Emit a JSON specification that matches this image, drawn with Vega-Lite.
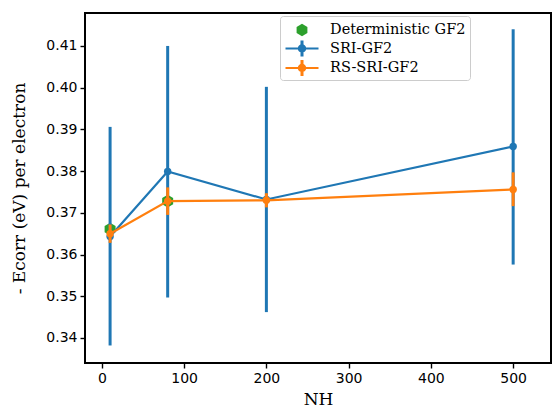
{
  "$schema": "https://vega.github.io/schema/vega-lite/v6.json",
  "width": 466,
  "height": 350,
  "autosize": {"type": "none"},
  "padding": {"left": 85, "top": 13, "right": 2, "bottom": 48},
  "background": "white",
  "config": {
    "view": {"stroke": "black", "strokeWidth": 2},
    "axis": {
      "grid": false,
      "domain": false,
      "tickColor": "black",
      "tickSize": 5,
      "tickWidth": 1.4,
      "labelFont": "DejaVu Sans",
      "labelFontSize": 14,
      "labelColor": "black",
      "titleFont": "DejaVu Serif",
      "titleFontSize": 17,
      "titleFontWeight": "normal",
      "titleColor": "black",
      "labelPadding": 3
    },
    "legend": {
      "labelFont": "DejaVu Serif",
      "labelFontSize": 14.5,
      "labelColor": "black"
    }
  },
  "data": {
    "values": [
      {"series": "Deterministic GF2", "N": 10, "y": 0.3661},
      {"series": "Deterministic GF2", "N": 80, "y": 0.3728},
      {"series": "SRI-GF2", "N": 10, "y": 0.3643, "lo": 0.3382, "hi": 0.3906},
      {"series": "SRI-GF2", "N": 80, "y": 0.3799, "lo": 0.3497, "hi": 0.4100},
      {"series": "SRI-GF2", "N": 200, "y": 0.3732, "lo": 0.3462, "hi": 0.4002},
      {"series": "SRI-GF2", "N": 500, "y": 0.3859, "lo": 0.3576, "hi": 0.4140},
      {"series": "RS-SRI-GF2", "N": 10, "y": 0.3650, "lo": 0.3628, "hi": 0.3672},
      {"series": "RS-SRI-GF2", "N": 80, "y": 0.3728, "lo": 0.3695, "hi": 0.3761},
      {"series": "RS-SRI-GF2", "N": 200, "y": 0.3730, "lo": 0.3713, "hi": 0.3747},
      {"series": "RS-SRI-GF2", "N": 500, "y": 0.3756, "lo": 0.3716, "hi": 0.3797}
    ]
  },
  "encoding": {
    "x": {
      "field": "N", "type": "quantitative",
      "scale": {"domain": [-20.5, 546], "nice": false, "zero": false},
      "axis": {"values": [0, 100, 200, 300, 400, 500], "title": "NH", "titlePadding": 6}
    },
    "y": {
      "field": "y", "type": "quantitative",
      "scale": {"domain": [0.334, 0.4179], "nice": false, "zero": false},
      "axis": {"values": [0.34, 0.35, 0.36, 0.37, 0.38, 0.39, 0.40, 0.41], "format": ".2f", "title": "- Ecorr (eV) per electron", "titlePadding": 17}
    }
  },
  "layer": [
    {
      "transform": [{"filter": "datum.series === 'Deterministic GF2'"}],
      "mark": {"type": "point", "filled": true, "opacity": 1, "size": 160, "color": "#2ca02c", "shape": "M0,-1L0.866,-0.5L0.866,0.5L0,1L-0.866,0.5L-0.866,-0.5Z"}
    },
    {
      "transform": [{"filter": "datum.series === 'SRI-GF2'"}],
      "mark": {"type": "rule", "color": "#1f77b4", "strokeWidth": 3},
      "encoding": {"y": {"field": "lo", "type": "quantitative"}, "y2": {"field": "hi"}}
    },
    {
      "transform": [{"filter": "datum.series === 'SRI-GF2'"}],
      "mark": {"type": "line", "color": "#1f77b4", "strokeWidth": 2.2,
        "point": {"filled": true, "size": 55, "color": "#1f77b4", "opacity": 1}}
    },
    {
      "transform": [{"filter": "datum.series === 'RS-SRI-GF2'"}],
      "mark": {"type": "rule", "color": "#ff7f0e", "strokeWidth": 3},
      "encoding": {"y": {"field": "lo", "type": "quantitative"}, "y2": {"field": "hi"}}
    },
    {
      "transform": [{"filter": "datum.series === 'RS-SRI-GF2'"}],
      "mark": {"type": "line", "color": "#ff7f0e", "strokeWidth": 2.2,
        "point": {"filled": true, "size": 55, "color": "#ff7f0e", "opacity": 1}}
    },
    {
      "transform": [{"filter": "datum.N === 10"}],
      "mark": {"type": "point", "filled": true, "opacity": 0},
      "encoding": {
        "color": {
          "field": "series", "type": "nominal",
          "scale": {"domain": ["Deterministic GF2", "SRI-GF2", "RS-SRI-GF2"], "range": ["#2ca02c", "#1f77b4", "#ff7f0e"]},
          "legend": {
            "title": null,
            "orient": "none",
            "legendX": 195,
            "legendY": 3,
            "padding": 4,
            "symbolOffset": 8,
            "labelOffset": 18,
            "rowPadding": 1.5,
            "symbolSize": 400,
            "symbolOpacity": 1,
            "symbolStrokeWidth": 0,
            "labelFont": "DejaVu Serif",
            "labelFontSize": 14.5,
            "labelColor": "black",
            "strokeColor": "#cccccc",
            "fillColor": "white",
            "cornerRadius": 3
          }
        },
        "shape": {
          "field": "series", "type": "nominal",
          "scale": {"domain": ["Deterministic GF2", "SRI-GF2", "RS-SRI-GF2"],
            "range": [
              "M0,-0.62L0.54,-0.31L0.54,0.31L0,0.62L-0.54,0.31L-0.54,-0.31Z",
              "M-1.65,-0.1H1.65V0.1H-1.65Z M-0.15,-0.8H0.15V0.8H-0.15Z M0.42,0A0.42,0.42 0 1,1 -0.42,0A0.42,0.42 0 1,1 0.42,0Z",
              "M-1.65,-0.1H1.65V0.1H-1.65Z M-0.15,-0.8H0.15V0.8H-0.15Z M0.42,0A0.42,0.42 0 1,1 -0.42,0A0.42,0.42 0 1,1 0.42,0Z"
            ]},
          "legend": null
        }
      }
    }
  ]
}
